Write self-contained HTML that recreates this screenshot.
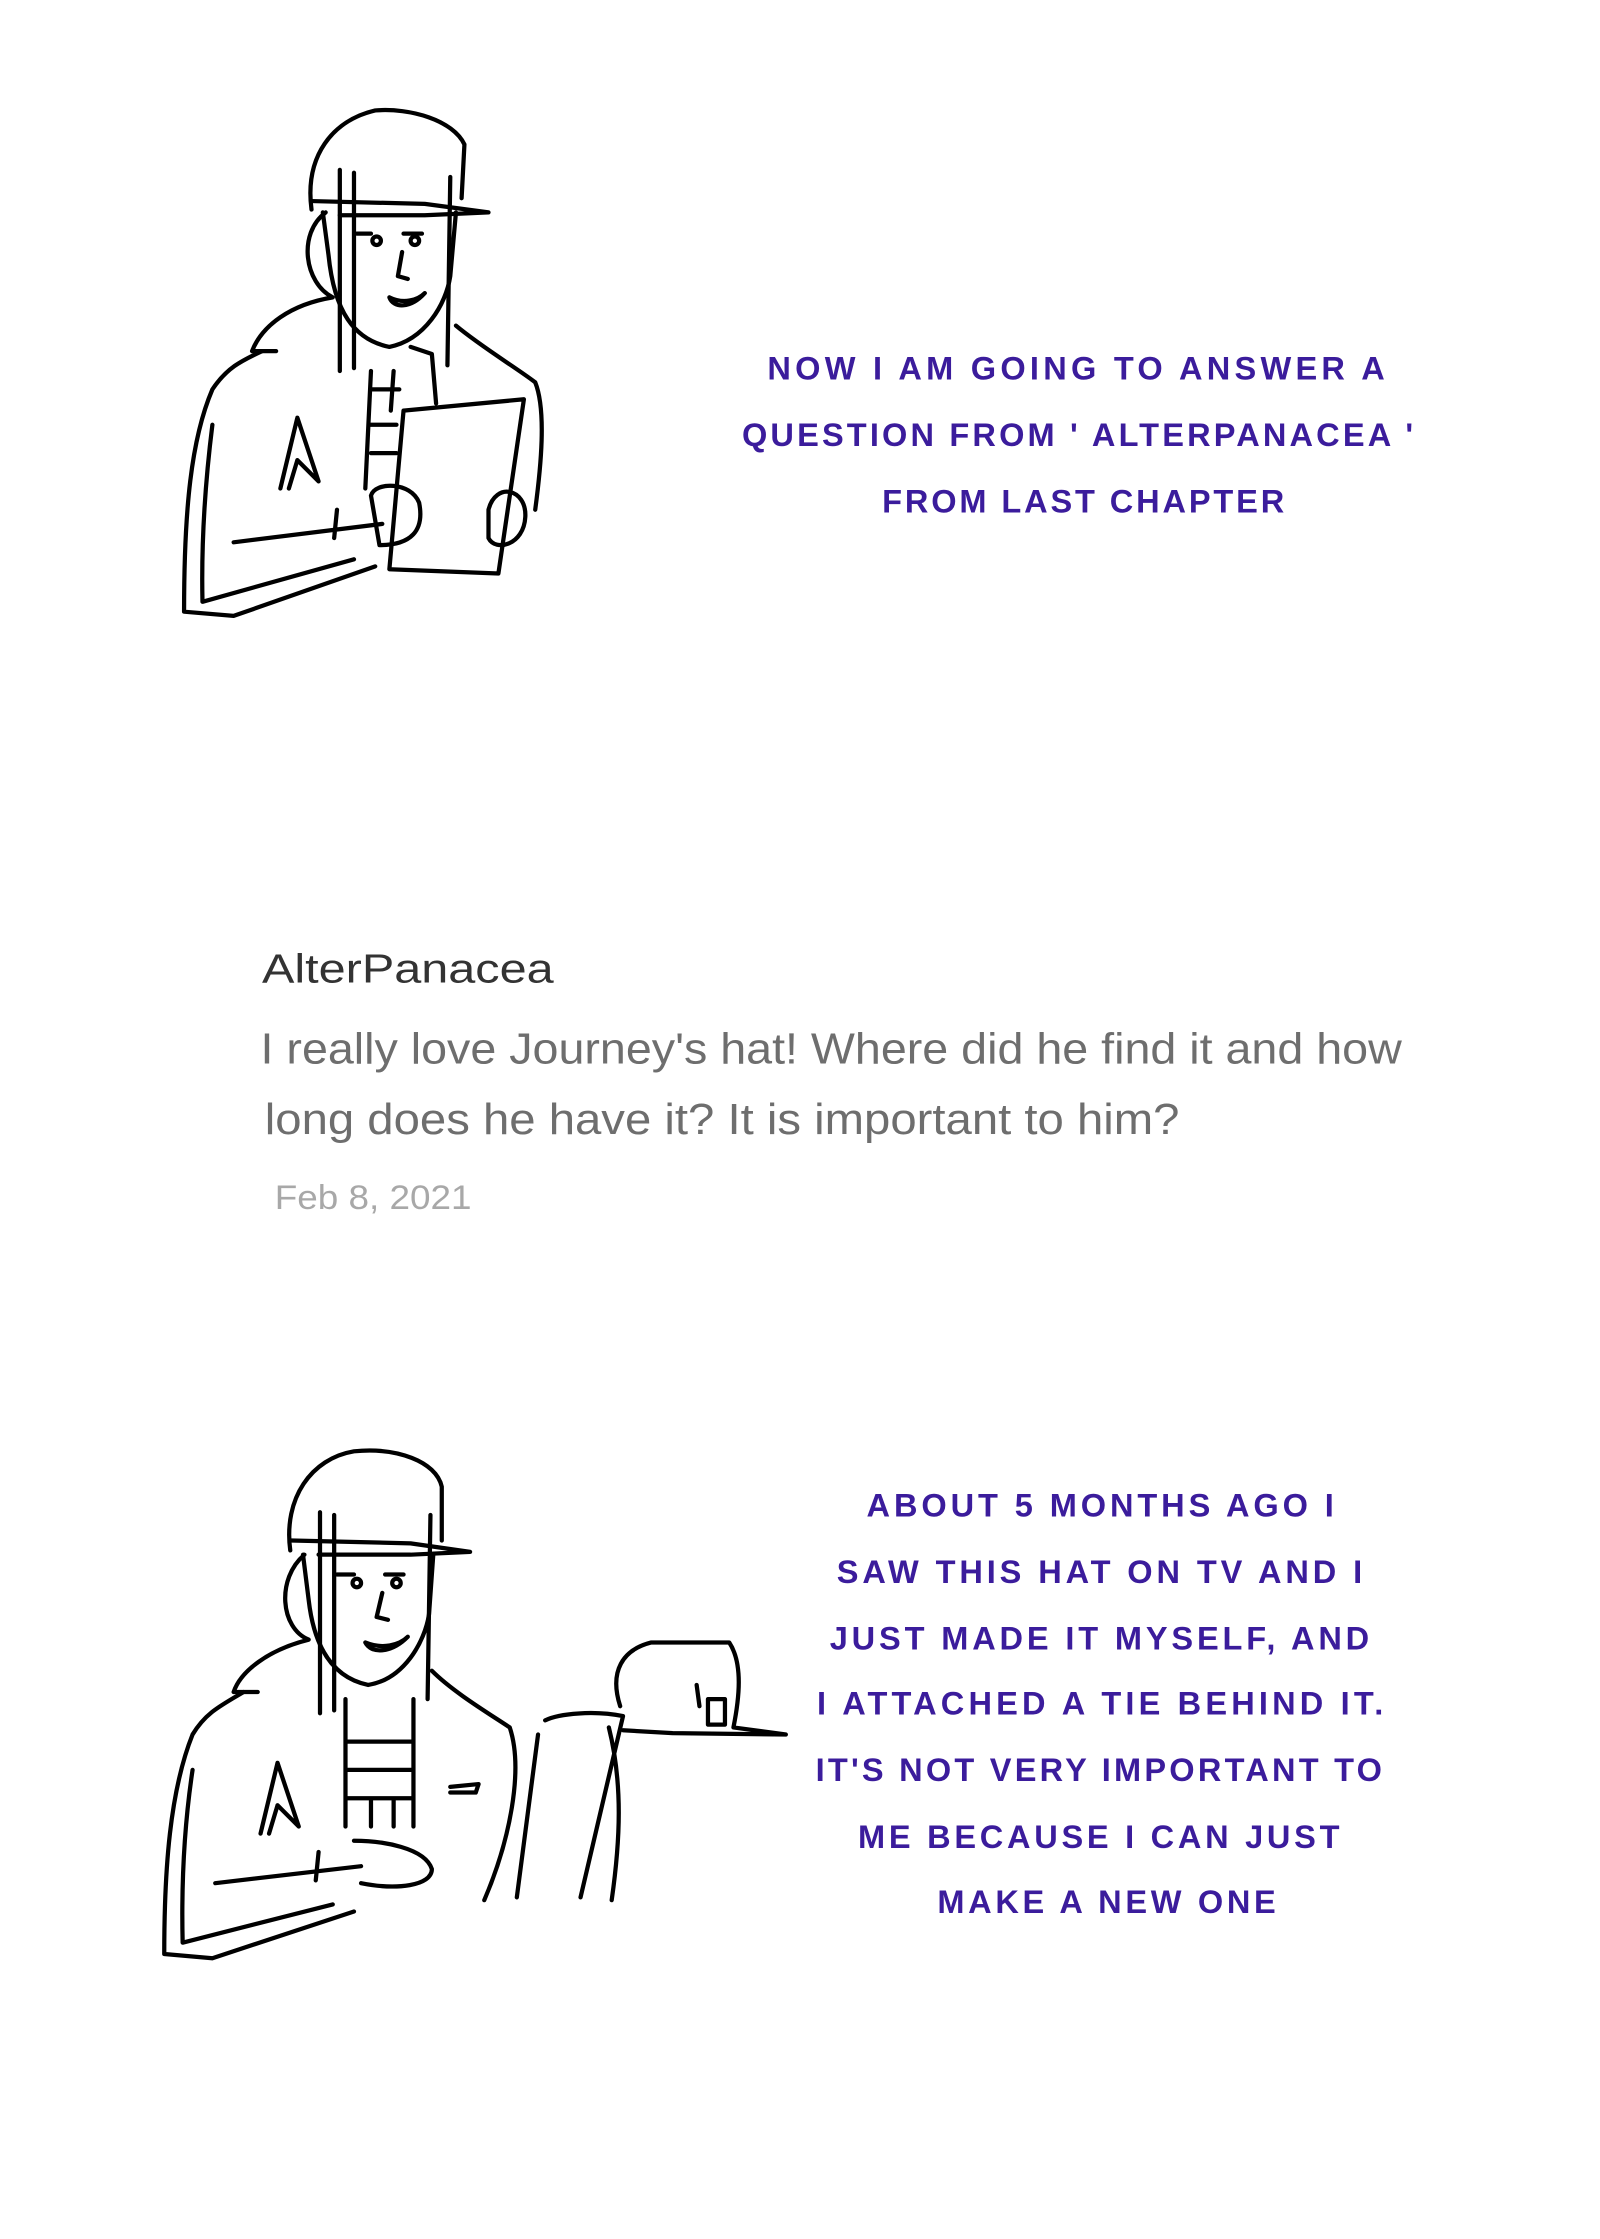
<!DOCTYPE html>
<html><head><meta charset="utf-8"><style>
html,body{margin:0;padding:0;background:#fff;}
svg{display:block}
.t{font-family:"Liberation Sans",sans-serif;font-size:23px;fill:#3b1c9c;font-weight:bold;}
.d{fill:none;stroke:#000;stroke-width:3;stroke-linecap:round;stroke-linejoin:round}
</style></head><body>
<svg width="1600" height="2239" viewBox="0 0 1130 1581.3" xmlns="http://www.w3.org/2000/svg">
<rect width="1130" height="1582" fill="#fff"/>
<g class="d">
<path d="M220 148 C215 110 235 85 265 78 C290 76 320 85 328 102 L326 140"/>
<path d="M220 142 L300 144 L345 150 L300 152 L240 152"/>
<path d="M228 150 L232 180 C236 220 250 240 275 245 C300 240 315 215 318 195 L322 150"/>
<path d="M252 165 L262 165 M285 165 L298 165"/>
<circle cx="266" cy="170" r="3"/><circle cx="293" cy="170" r="3"/>
<path d="M275 210 C285 215 295 212 300 207 C290 218 278 218 275 210"/>
<path d="M284 178 L281 195 L288 197"/>
<path d="M240 120 L240 262 M250 122 L250 260 M318 125 L316 258 M230 150 C210 165 215 200 235 210 C205 215 185 230 178 248 L195 248"/>
<path d="M185 248 C170 255 160 260 150 275 C135 310 130 360 130 432 L165 435 L265 400"/>
<path d="M150 300 C145 340 142 380 143 425 L250 395"/>
<path d="M165 383 L270 370 M238 360 L236 380"/>
<path d="M210 295 L198 345 M210 295 L225 340 L210 325 L204 345"/>
<path d="M262 262 L258 345 M278 262 L276 290 M262 275 L282 275 M262 300 L280 300 M262 320 L280 320"/>
<path d="M322 230 C340 245 365 260 378 270 C386 290 382 330 378 360"/>
<path d="M285 290 L370 282 L352 405 L275 402 Z"/>
<path d="M262 350 C265 340 290 340 296 355 C300 375 290 385 268 385 Z"/>
<path d="M345 360 C350 340 372 345 371 365 C370 385 350 390 345 380 Z"/>
<path d="M290 245 L305 250 L308 285"/>
</g>
<g class="d">
<path d="M205 1095 C200 1058 220 1030 250 1025 C280 1022 308 1032 312 1050 L312 1088"/>
<path d="M206 1088 L290 1090 L332 1096 L290 1098 L225 1098"/>
<path d="M214 1098 L218 1130 C222 1165 236 1185 260 1190 C285 1186 300 1160 303 1140 L306 1098"/>
<path d="M238 1112 L250 1112 M272 1112 L285 1112"/>
<circle cx="252" cy="1118" r="3"/><circle cx="280" cy="1118" r="3"/>
<path d="M258 1160 C270 1165 282 1162 288 1156 C276 1168 262 1168 258 1160"/>
<path d="M270 1125 L266 1142 L274 1144"/>
<path d="M226 1068 L226 1210 M236 1070 L236 1208 M304 1070 L302 1200 M215 1098 C195 1115 198 1150 218 1158 C190 1165 170 1180 165 1195 L182 1195"/>
<path d="M172 1195 C155 1205 145 1210 136 1225 C120 1265 116 1320 116 1380 L150 1383 L250 1350"/>
<path d="M136 1250 C130 1290 128 1330 129 1372 L235 1345"/>
<path d="M152 1330 L255 1318 M225 1308 L223 1328"/>
<path d="M196 1245 L184 1295 M196 1245 L211 1290 L196 1275 L190 1295"/>
<path d="M244 1200 L244 1290 M292 1200 L292 1290 M244 1230 L292 1230 M244 1250 L292 1250 M244 1270 L292 1270 M262 1270 L262 1290 M278 1270 L278 1290"/>
<path d="M250 1300 C270 1300 300 1305 305 1320 C305 1332 280 1335 255 1330"/>
<path d="M305 1180 C320 1195 345 1210 360 1220 C370 1250 360 1300 342 1342"/>
<path d="M318 1262 L338 1260 L336 1266 L318 1266"/>
<path d="M385 1215 C395 1210 420 1208 440 1212 L410 1340 M380 1225 L365 1340 M430 1220 C440 1260 438 1300 432 1342"/>
<path d="M438 1205 C430 1180 440 1165 460 1160 L515 1160 C525 1175 522 1200 518 1220 L555 1225 L475 1224 L440 1222"/>
<path d="M492 1190 L494 1205 M500 1200 L500 1218 L512 1218 L512 1200 Z"/>
</g>
<text class="t" x="542" y="268" textLength="436" lengthAdjust="spacing">NOW I AM GOING TO ANSWER A</text>
<text class="t" x="524" y="315" textLength="474" lengthAdjust="spacing">QUESTION FROM ' ALTERPANACEA '</text>
<text class="t" x="623" y="362" textLength="284" lengthAdjust="spacing">FROM LAST CHAPTER</text>
<text x="185" y="694" font-family="Liberation Sans,sans-serif" font-size="29" fill="#333" textLength="206" lengthAdjust="spacingAndGlyphs">AlterPanacea</text>
<text x="184" y="751" font-family="Liberation Sans,sans-serif" font-size="31" fill="#6e6e6e" textLength="806" lengthAdjust="spacingAndGlyphs">I really love Journey's hat! Where did he find it and how</text>
<text x="187" y="801" font-family="Liberation Sans,sans-serif" font-size="31" fill="#6e6e6e" textLength="646" lengthAdjust="spacingAndGlyphs">long does he have it? It is important to him?</text>
<text x="194" y="854" font-family="Liberation Sans,sans-serif" font-size="24" fill="#a8a8a8" textLength="139" lengthAdjust="spacingAndGlyphs">Feb 8, 2021</text>
<text class="t" x="612" y="1071" textLength="330" lengthAdjust="spacing">ABOUT 5 MONTHS AGO I</text>
<text class="t" x="591" y="1118" textLength="371" lengthAdjust="spacing">SAW THIS HAT ON TV AND I</text>
<text class="t" x="586" y="1165" textLength="381" lengthAdjust="spacing">JUST MADE IT MYSELF, AND</text>
<text class="t" x="577" y="1211" textLength="400" lengthAdjust="spacing">I ATTACHED A TIE BEHIND IT.</text>
<text class="t" x="576" y="1258" textLength="400" lengthAdjust="spacing">IT'S NOT VERY IMPORTANT TO</text>
<text class="t" x="606" y="1305" textLength="340" lengthAdjust="spacing">ME BECAUSE I CAN JUST</text>
<text class="t" x="662" y="1351" textLength="239" lengthAdjust="spacing">MAKE A NEW ONE</text>
</svg>
</body></html>
